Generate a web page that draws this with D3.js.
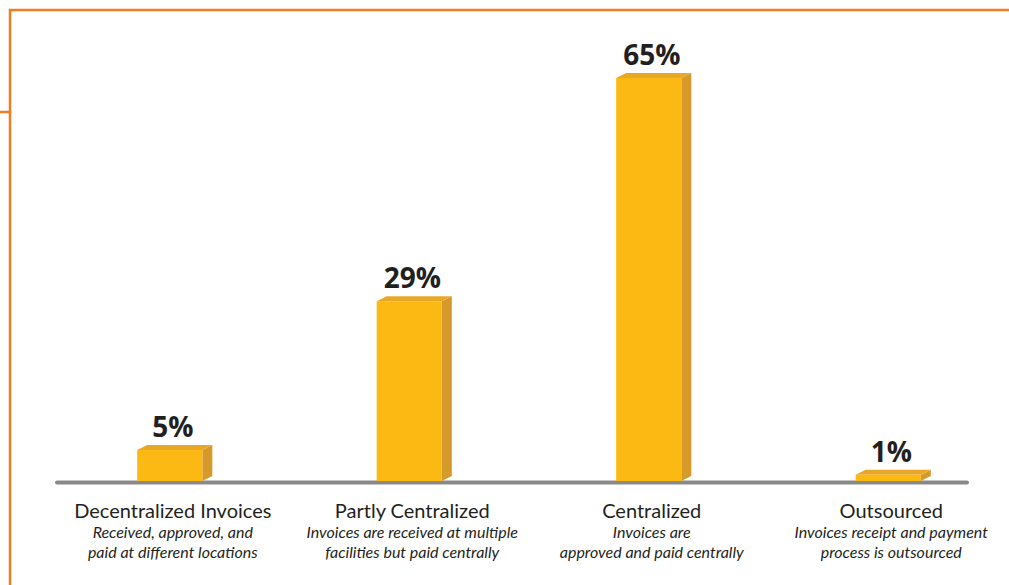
<!DOCTYPE html>
<html>
<head>
<meta charset="utf-8">
<script src="https://cdn.jsdelivr.net/npm/d3@7"></script>
<style>
  html, body { margin: 0; padding: 0; background: #fff; }
  svg { display: block; }
</style>
</head>
<body>
<div id="chart"></div>
<script>
// data
var categories = ["Decentralized Invoices", "Partly Centralized", "Centralized", "Outsourced"];
var values = [5, 29, 65, 1];
var subLine1 = ["Received, approved, and", "Invoices are received at multiple", "Invoices are", "Invoices receipt and payment"];
var subLine2 = ["paid at different locations", "facilities but paid centrally", "approved and paid centrally", "process is outsourced"];

var W = 1009, H = 585;
var baseY = 481;
var depthX = 10, depthY = 5;

var svg = d3.select("#chart")
  .append("svg")
  .attr("width", W)
  .attr("height", H);

// orange frame
var orange = "#F47B20";
svg.append("path")
  .attr("d", "M1009,10 H10 V585")
  .attr("fill", "none")
  .attr("stroke", orange)
  .attr("stroke-width", 2.5);
svg.append("line")
  .attr("x1", 0).attr("x2", 10)
  .attr("y1", 112).attr("y2", 112)
  .attr("stroke", orange)
  .attr("stroke-width", 2.5);

var x = d3.scaleBand()
  .domain(categories)
  .range([50, 1008])
  .paddingInner(0.728)
  .paddingOuter(0.364);

var y = d3.scaleLinear()
  .domain([0, 65])
  .range([baseY, 78]);

var data = categories.map(function(c, i) { return {name: c, value: values[i], s1: subLine1[i], s2: subLine2[i]}; });

// baseline
svg.append("line")
  .attr("x1", 57).attr("x2", 967)
  .attr("y1", baseY + 1.5).attr("y2", baseY + 1.5)
  .attr("stroke", "#898989")
  .attr("stroke-width", 4)
  .attr("stroke-linecap", "round");

var bars = svg.selectAll("g.bar")
  .data(data)
  .enter()
  .append("g")
  .attr("class", "bar");

// side face
bars.append("path")
  .attr("fill", "#D69A2B")
  .attr("d", function(d) {
    var x1 = x(d.name) + x.bandwidth(), t = y(d.value);
    return "M" + x1 + "," + t + " L" + (x1 + depthX) + "," + (t - depthY) +
      " L" + (x1 + depthX) + "," + (baseY - depthY) + " L" + x1 + "," + baseY + "Z";
  });

// top face
bars.append("path")
  .attr("fill", "#E8A727")
  .attr("d", function(d) {
    var x0 = x(d.name), x1 = x0 + x.bandwidth(), t = y(d.value);
    return "M" + x0 + "," + t + " L" + (x0 + depthX) + "," + (t - depthY) +
      " L" + (x1 + depthX) + "," + (t - depthY) + " L" + x1 + "," + t + "Z";
  });

// front face
bars.append("rect")
  .attr("x", d => x(d.name))
  .attr("y", d => y(d.value))
  .attr("width", x.bandwidth())
  .attr("height", d => baseY - y(d.value))
  .attr("fill", "#FDB913");

// value labels
bars.append("text")
  .attr("x", d => x(d.name) + x.bandwidth() / 2 + 3)
  .attr("y", d => y(d.value) - 13)
  .attr("text-anchor", "middle")
  .style("font-family", "'Open Sans', sans-serif")
  .style("font-weight", "bold")
  .style("font-size", "28px")
  .style("fill", "#231F20")
  .text(d => d.value + "%");

// category labels
var lab = svg.selectAll("g.lab")
  .data(data)
  .enter()
  .append("g")
  .attr("class", "lab")
  .attr("transform", d => "translate(" + (x(d.name) + x.bandwidth() / 2 + 3) + ",0)")
  .style("font-family", "Lato, sans-serif")
  .style("fill", "#231F20")
  .attr("text-anchor", "middle");

lab.append("text")
  .attr("y", 518)
  .style("font-size", "20px")
  .text(d => d.name);

lab.append("text")
  .attr("y", 538)
  .style("font-size", "16px")
  .style("font-style", "italic")
  .text(d => d.s1);

lab.append("text")
  .attr("y", 558)
  .style("font-size", "16px")
  .style("font-style", "italic")
  .text(d => d.s2);
</script>
</body>
</html>
